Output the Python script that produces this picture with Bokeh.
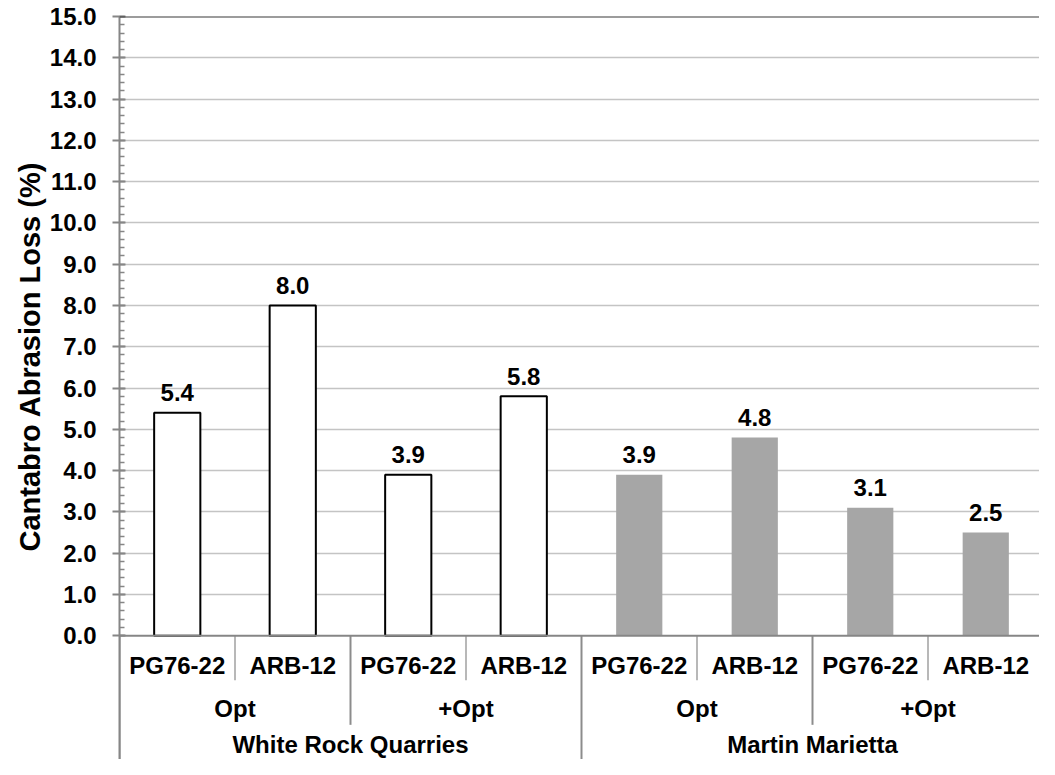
from bokeh.plotting import figure
from bokeh.models import Range1d, FixedTicker, PrintfTickFormatter, Span, ColumnDataSource, Title
from bokeh.core.properties import value
from bokeh.embed import file_html
from bokeh.resources import INLINE

# ---- data ----
suppliers = ["White Rock Quarries"] * 4 + ["Martin Marietta"] * 4
gradations = ["Opt", "Opt", "+Opt", "+Opt", "Opt", "Opt", "+Opt", "+Opt"]
binders = ["PG76-22", "ARB-12", "PG76-22", "ARB-12", "PG76-22", "ARB-12", "PG76-22", "ARB-12"]
values = [5.4, 8.0, 3.9, 5.8, 3.9, 4.8, 3.1, 2.5]
supplier_colors = {"White Rock Quarries": "white", "Martin Marietta": "#a6a6a6"}
supplier_lines = {"White Rock Quarries": "black", "Martin Marietta": None}
y_ticks = list(range(0, 16))
y_title = "Cantabro Abrasion Loss (%)"

FONT = "Liberation Sans"
FS = "24px"
n = len(values)
W, H = 1039, 759
left = 119
top = 16
cat_px = 115.5
frame_w = W - left

p = figure(width=W, height=H, output_backend="svg", toolbar_location=None,
           x_range=Range1d(0, frame_w / cat_px), y_range=Range1d(-3, 15),
           x_axis_location=None,
           min_border_left=left, min_border_top=top, min_border_right=0, min_border_bottom=0)
p.outline_line_color = None
p.background_fill_color = "white"
p.xgrid.visible = False

# y axis
ax = p.yaxis[0]
minor = [round(i * 0.2, 1) for i in range(0, 76)]
ax.ticker = FixedTicker(ticks=y_ticks, minor_ticks=minor)
ax.formatter = PrintfTickFormatter(format="%.1f")
ax.axis_line_color = "#868686"
ax.axis_line_width = 2
ax.major_tick_line_color = "#868686"
ax.major_tick_line_width = 2
ax.major_tick_out = 7
ax.major_tick_in = 6
ax.minor_tick_line_color = "#868686"
ax.minor_tick_line_width = 1.5
ax.minor_tick_out = 0
ax.minor_tick_in = 5
ax.major_label_text_font = FONT
ax.major_label_text_font_style = "bold"
ax.major_label_text_font_size = FS
ax.major_label_text_color = "black"
ax.major_label_standoff = 16

# y title placed in the left panel, starting near the 2.0 gridline
p.add_layout(Title(text=y_title, align="left", offset=208, vertical_align="middle",
                   text_font=FONT, text_font_style="bold", text_font_size="29px",
                   text_color="black", standoff=0), "left")

p.ygrid.ticker = FixedTicker(ticks=[t for t in y_ticks if 0 < t < y_ticks[-1]])
p.ygrid.grid_line_color = "#c4c4c4"
p.ygrid.grid_line_width = 1.5

# bars
xs = [i + 0.5 for i in range(n)]
src = ColumnDataSource(dict(
    x=xs, top=values,
    fill=[supplier_colors[s] for s in suppliers],
    line=[supplier_lines[s] or "white" for s in suppliers],
    lalpha=[1.0 if supplier_lines[s] else 0.0 for s in suppliers],
    label=[f"{v:.1f}" for v in values],
    ly=[v + 0.48 for v in values],
))
p.vbar(x="x", top="top", bottom=0, width=0.4, source=src,
       fill_color="fill", line_color="line", line_alpha="lalpha", line_width=2)
p.text(x="x", y="ly", text="label", source=src,
       text_font=value(FONT), text_font_style="bold", text_font_size=FS,
       text_align="center", text_baseline="middle", text_color="black")

# axis line at 0 and top border
p.add_layout(Span(location=0, dimension="width", line_color="#868686", line_width=2))
p.add_layout(Span(location=y_ticks[-1], dimension="width", line_color="#3a3a3a", line_width=2))

# multi-level category separators
depth = {1: -1.08, 2: -2.16, 3: -3.0}
sx0, sy0, sx1, sy1, scol, swid = [], [], [], [], [], []
bounds = [(0, 3)]
for i in range(1, n):
    if suppliers[i] != suppliers[i - 1]:
        lvl = 3
    elif gradations[i] != gradations[i - 1]:
        lvl = 2
    else:
        lvl = 1
    bounds.append((i, lvl))
bounds.append((n, 3))
for b, lvl in bounds:
    sx0.append(b); sx1.append(b); sy0.append(0); sy1.append(depth[lvl])
    scol.append("#a0a0a0" if lvl == 1 else "#8c8c8c")
    swid.append(1.5 if lvl == 1 else 2)
p.segment(x0=sx0, y0=sy0, x1=sx1, y1=sy1, line_color=scol, line_width=swid)

# level 1 labels
p.text(x=xs, y=[-0.72] * n, text=binders, text_font=value(FONT), text_font_style="bold",
       text_font_size=FS, text_align="center", text_baseline="middle", text_color="black")

def groups(keys):
    out = []
    start = 0
    for i in range(1, n + 1):
        if i == n or keys[i] != keys[start]:
            out.append(((start + i) / 2, keys[start]))
            start = i
    return out

g2 = groups(list(zip(suppliers, gradations)))
p.text(x=[c for c, _ in g2], y=[-1.76] * len(g2), text=[k[1] for _, k in g2],
       text_font=value(FONT), text_font_style="bold", text_font_size=FS,
       text_align="center", text_baseline="middle", text_color="black")
g3 = groups(suppliers)
p.text(x=[c for c, _ in g3], y=[-2.64] * len(g3), text=[k for _, k in g3],
       text_font=value(FONT), text_font_style="bold", text_font_size=FS,
       text_align="center", text_baseline="middle", text_color="black")

open("out.html", "w").write(file_html(p, INLINE))
